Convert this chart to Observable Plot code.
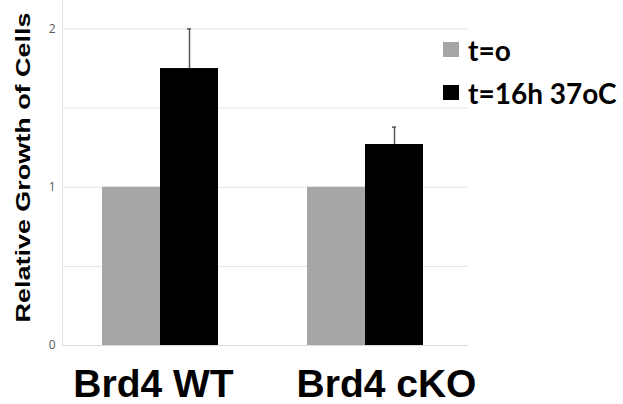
<!DOCTYPE html>
<html>
<head>
<meta charset="utf-8">
<script src="https://cdn.jsdelivr.net/npm/d3@7"></script>
<script src="https://cdn.jsdelivr.net/npm/@observablehq/plot@0.6"></script>
<style>
  html, body { margin: 0; padding: 0; background: #fff; }
  #wrap { position: relative; width: 623px; height: 404px; }
  #legend { position: absolute; left: 443px; top: 28px; font-family: Lato, "Open Sans", sans-serif; font-weight: bold; font-size: 28px; color: #000; }
  .row { display: flex; align-items: center; height: 43px; white-space: nowrap; }
  .sw { width: 16px; height: 15px; margin-right: 9px; flex: none; }
</style>
</head>
<body>
<div id="wrap"></div>
<script>
const groups = ["Brd4 WT", "Brd4 cKO"];
const series = ["t=o", "t=16h 37oC"];
const colors = ["#a6a6a6", "#000000"];
const valT0 = [1, 1];
const valT16 = [1.75, 1.27];
const errT16 = [0.25, 0.11];
const yTickLabels = [0, 1, 2];
const yGrid = [0.5, 1, 1.5, 2];
const yLabel = "Relative Growth of Cells";

const rows0 = groups.map((g, i) => ({group: g, value: valT0[i]}));
const rows1 = groups.map((g, i) => ({group: g, value: valT16[i], err: errT16[i]}));

const chart = Plot.plot({
  width: 623,
  height: 404,
  marginLeft: 62,
  marginRight: 155,
  marginTop: 0,
  marginBottom: 59,
  x: {domain: groups, paddingInner: 0.434, paddingOuter: 0.207, align: 0.47, axis: null},
  y: {domain: [0, 2.18], axis: null},
  style: {background: "white", fontFamily: "'Liberation Sans', Arial, sans-serif"},
  marks: [
    Plot.gridY(yGrid, {stroke: "#e4e4e4", strokeOpacity: 1}),
    Plot.frame({anchor: "left", stroke: "#e4e4e4", strokeOpacity: 1}),
    Plot.ruleY([0], {stroke: "#d9d9d9"}),
    Plot.barY(rows0, {x: "group", y: "value", fill: colors[0], insetRight: 58}),
    Plot.barY(rows1, {x: "group", y: "value", fill: colors[1], insetLeft: 58}),
    Plot.ruleX(rows1, {x: "group", y1: "value", y2: d => d.value + d.err, dx: 29, stroke: "#595959", strokeWidth: 1.5}),
    Plot.tickY(rows1, {x: "group", y: d => d.value + d.err, insetLeft: 85, insetRight: 27, stroke: "#595959", strokeWidth: 1.5}),
    Plot.axisY(yTickLabels, {tickSize: 0, tickPadding: 7, fontSize: 12, fill: "#595959", label: null, tickFormat: "d", fontFamily: "'Open Sans', sans-serif"}),
    Plot.axisX([groups[0]], {tickSize: 0, tickPadding: 24, fontSize: 39, fontWeight: "bold", fill: "black", label: null, dx: -7}),
    Plot.axisX([groups[1]], {tickSize: 0, tickPadding: 24, fontSize: 39, fontWeight: "bold", fill: "black", label: null, dx: 21}),
    Plot.text([yLabel], {text: d => d, frameAnchor: "bottom-left", textAnchor: "start", rotate: -90, dx: -33, dy: -23, fontSize: 21, fontWeight: "bold", fill: "black"})
  ]
});

d3.select(chart).selectAll('g[aria-label="text"] text')
  .attr("textLength", 310)
  .attr("lengthAdjust", "spacingAndGlyphs");

const wrap = document.getElementById("wrap");
wrap.appendChild(chart);

const legend = document.createElement("div");
legend.id = "legend";
series.forEach((s, i) => {
  const row = document.createElement("div");
  row.className = "row";
  const sw = document.createElement("span");
  sw.className = "sw";
  sw.style.background = colors[i];
  const label = document.createElement("span");
  label.textContent = s;
  row.appendChild(sw);
  row.appendChild(label);
  legend.appendChild(row);
});
wrap.appendChild(legend);
</script>
</body>
</html>
